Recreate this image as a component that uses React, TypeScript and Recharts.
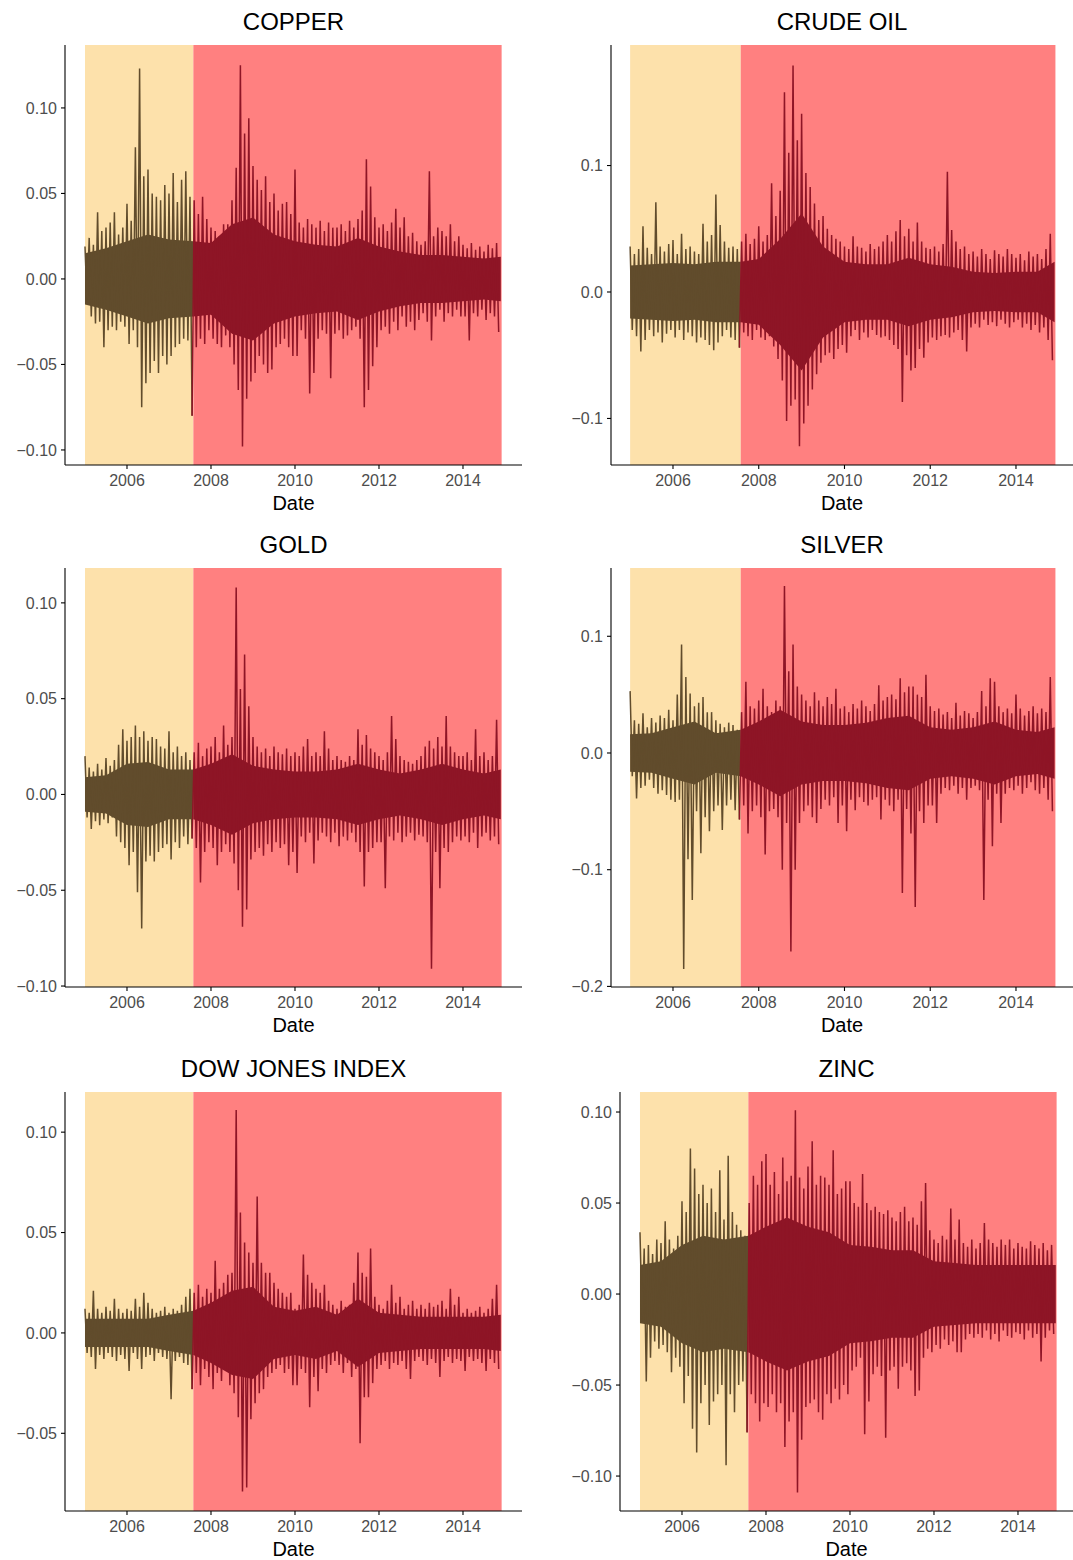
import { ComposedChart, Line, Area, XAxis, YAxis, ReferenceArea } from "recharts";

// returns sampled every 0.1 year from 2005.0: upper and lower envelope of each slice
const START = 2005.0;
const STEP = 0.1;
const BREAK = 2007.58;
const END = 2014.92;
const YEAR_TICKS = [2006, 2008, 2010, 2012, 2014];
// dense core of the returns (half width), read at these dates
const CORE_DATES = [
  2005.0, 2005.5, 2006.0, 2006.5, 2007.0, 2007.58, 2008.0, 2008.5, 2009.0, 2009.5, 2010.0,
  2010.5, 2011.0, 2011.5, 2012.0, 2012.5, 2013.0, 2013.5, 2014.0, 2014.5, 2014.9,
];

const copperHi = [
  0.019, 0.024, 0.020, 0.039, 0.028, 0.030, 0.033, 0.039, 0.026, 0.030,
  0.044, 0.034, 0.077, 0.123, 0.060, 0.064, 0.050, 0.048, 0.046, 0.055,
  0.050, 0.062, 0.045, 0.058, 0.063, 0.048, 0.046, 0.038, 0.048, 0.035,
  0.030, 0.028, 0.025, 0.032, 0.032, 0.046, 0.065, 0.125, 0.085, 0.094,
  0.066, 0.058, 0.052, 0.060, 0.045, 0.050, 0.040, 0.044, 0.045, 0.038,
  0.064, 0.033, 0.030, 0.035, 0.032, 0.030, 0.034, 0.028, 0.033, 0.030,
  0.030, 0.032, 0.028, 0.034, 0.030, 0.035, 0.040, 0.070, 0.054, 0.036,
  0.030, 0.032, 0.028, 0.033, 0.041, 0.030, 0.036, 0.025, 0.027, 0.022,
  0.020, 0.022, 0.063, 0.025, 0.030, 0.028, 0.025, 0.032, 0.022, 0.025,
  0.020, 0.018, 0.021, 0.017, 0.019, 0.016, 0.020, 0.018, 0.021,
];
const copperLo = [
  -0.014, -0.022, -0.026, -0.025, -0.040, -0.030, -0.028, -0.030, -0.025, -0.028,
  -0.038, -0.030, -0.040, -0.075, -0.061, -0.055, -0.048, -0.055, -0.045, -0.050,
  -0.045, -0.040, -0.038, -0.035, -0.036, -0.080, -0.040, -0.035, -0.038, -0.030,
  -0.035, -0.038, -0.040, -0.033, -0.040, -0.050, -0.065, -0.098, -0.070, -0.060,
  -0.055, -0.045, -0.050, -0.055, -0.053, -0.040, -0.038, -0.035, -0.040, -0.045,
  -0.045, -0.030, -0.035, -0.067, -0.055, -0.035, -0.030, -0.032, -0.058, -0.032,
  -0.030, -0.035, -0.033, -0.030, -0.028, -0.035, -0.075, -0.065, -0.051, -0.040,
  -0.030, -0.028, -0.032, -0.025, -0.030, -0.022, -0.028, -0.025, -0.030, -0.024,
  -0.020, -0.025, -0.036, -0.022, -0.018, -0.025, -0.020, -0.022, -0.018, -0.022,
  -0.022, -0.036, -0.020, -0.022, -0.018, -0.024, -0.020, -0.022, -0.031,
];
const copperCore = [
  0.015, 0.018, 0.022, 0.026, 0.023, 0.022, 0.021, 0.032, 0.036, 0.026, 0.022,
  0.020, 0.019, 0.024, 0.019, 0.016, 0.014, 0.014, 0.013, 0.012, 0.013,
];

const crudeHi = [
  0.036, 0.030, 0.034, 0.052, 0.035, 0.030, 0.071, 0.036, 0.032, 0.038,
  0.041, 0.030, 0.046, 0.034, 0.036, 0.032, 0.030, 0.054, 0.040, 0.045,
  0.077, 0.053, 0.040, 0.035, 0.036, 0.034, 0.040, 0.046, 0.038, 0.042,
  0.052, 0.040, 0.045, 0.086, 0.060, 0.080, 0.158, 0.110, 0.179, 0.120,
  0.141, 0.094, 0.083, 0.070, 0.057, 0.060, 0.050, 0.045, 0.042, 0.040,
  0.036, 0.034, 0.044, 0.036, 0.035, 0.032, 0.038, 0.034, 0.036, 0.040,
  0.045, 0.040, 0.048, 0.057, 0.044, 0.050, 0.040, 0.055, 0.040, 0.035,
  0.034, 0.036, 0.032, 0.038, 0.095, 0.049, 0.040, 0.034, 0.036, 0.030,
  0.032, 0.028, 0.034, 0.030, 0.026, 0.033, 0.030, 0.028, 0.034, 0.030,
  0.027, 0.030, 0.025, 0.032, 0.028, 0.030, 0.026, 0.034, 0.046,
];
const crudeLo = [
  -0.030, -0.035, -0.047, -0.038, -0.030, -0.035, -0.032, -0.040, -0.033, -0.030,
  -0.036, -0.030, -0.038, -0.032, -0.035, -0.040, -0.036, -0.038, -0.042, -0.046,
  -0.040, -0.035, -0.030, -0.036, -0.038, -0.044, -0.032, -0.035, -0.038, -0.030,
  -0.036, -0.038, -0.035, -0.043, -0.053, -0.070, -0.102, -0.090, -0.085, -0.122,
  -0.104, -0.090, -0.077, -0.065, -0.056, -0.050, -0.048, -0.053, -0.045, -0.042,
  -0.048, -0.035, -0.030, -0.038, -0.032, -0.036, -0.030, -0.034, -0.036, -0.035,
  -0.038, -0.042, -0.045, -0.087, -0.050, -0.062, -0.060, -0.045, -0.052, -0.040,
  -0.036, -0.038, -0.035, -0.034, -0.036, -0.032, -0.030, -0.038, -0.047, -0.028,
  -0.025, -0.028, -0.022, -0.026, -0.024, -0.027, -0.022, -0.025, -0.028, -0.024,
  -0.022, -0.028, -0.025, -0.030, -0.026, -0.032, -0.028, -0.038, -0.054,
];
const crudeCore = [
  0.021, 0.022, 0.023, 0.022, 0.024, 0.024, 0.026, 0.042, 0.062, 0.036, 0.024,
  0.022, 0.022, 0.027, 0.022, 0.020, 0.016, 0.015, 0.016, 0.016, 0.024,
];

const goldHi = [
  0.020, 0.014, 0.012, 0.016, 0.013, 0.019, 0.015, 0.018, 0.026, 0.034,
  0.028, 0.030, 0.036, 0.030, 0.033, 0.028, 0.030, 0.029, 0.025, 0.024,
  0.033, 0.022, 0.025, 0.020, 0.022, 0.018, 0.022, 0.027, 0.020, 0.024,
  0.025, 0.030, 0.022, 0.036, 0.026, 0.030, 0.108, 0.055, 0.073, 0.046,
  0.030, 0.025, 0.022, 0.024, 0.020, 0.025, 0.022, 0.021, 0.024, 0.020,
  0.022, 0.020, 0.025, 0.029, 0.020, 0.022, 0.020, 0.033, 0.024, 0.018,
  0.020, 0.018, 0.017, 0.020, 0.018, 0.034, 0.026, 0.031, 0.024, 0.022,
  0.020, 0.018, 0.022, 0.041, 0.029, 0.020, 0.018, 0.017, 0.016, 0.018,
  0.020, 0.025, 0.028, 0.024, 0.030, 0.025, 0.041, 0.025, 0.022, 0.020,
  0.020, 0.022, 0.018, 0.034, 0.020, 0.022, 0.018, 0.020, 0.039,
];
const goldLo = [
  -0.012, -0.018, -0.014, -0.016, -0.013, -0.015, -0.012, -0.022, -0.025, -0.028,
  -0.037, -0.030, -0.051, -0.070, -0.035, -0.032, -0.035, -0.030, -0.028, -0.026,
  -0.034, -0.025, -0.028, -0.022, -0.026, -0.023, -0.028, -0.046, -0.030, -0.025,
  -0.028, -0.037, -0.030, -0.026, -0.030, -0.036, -0.050, -0.069, -0.060, -0.034,
  -0.030, -0.028, -0.032, -0.026, -0.030, -0.025, -0.028, -0.026, -0.037, -0.030,
  -0.041, -0.022, -0.025, -0.020, -0.036, -0.024, -0.020, -0.022, -0.025, -0.020,
  -0.027, -0.022, -0.024, -0.020, -0.025, -0.030, -0.048, -0.030, -0.028, -0.025,
  -0.025, -0.049, -0.022, -0.024, -0.020, -0.025, -0.022, -0.020, -0.024, -0.021,
  -0.022, -0.025, -0.091, -0.030, -0.049, -0.028, -0.030, -0.025, -0.022, -0.024,
  -0.022, -0.025, -0.020, -0.028, -0.022, -0.020, -0.024, -0.022, -0.026,
];
const goldCore = [
  0.009, 0.010, 0.016, 0.017, 0.013, 0.013, 0.016, 0.021, 0.015, 0.013, 0.012,
  0.012, 0.013, 0.016, 0.013, 0.011, 0.013, 0.016, 0.013, 0.011, 0.013,
];

const silverHi = [
  0.053, 0.028, 0.025, 0.034, 0.022, 0.030, 0.026, 0.032, 0.030, 0.037,
  0.028, 0.050, 0.093, 0.065, 0.051, 0.040, 0.043, 0.048, 0.035, 0.035,
  0.028, 0.025, 0.022, 0.026, 0.024, 0.020, 0.035, 0.061, 0.040, 0.038,
  0.045, 0.055, 0.040, 0.035, 0.045, 0.040, 0.143, 0.070, 0.093, 0.057,
  0.050, 0.045, 0.040, 0.052, 0.045, 0.040, 0.048, 0.042, 0.055, 0.038,
  0.040, 0.035, 0.042, 0.038, 0.045, 0.040, 0.036, 0.042, 0.058, 0.045,
  0.048, 0.050, 0.046, 0.064, 0.052, 0.057, 0.057, 0.050, 0.048, 0.067,
  0.040, 0.036, 0.038, 0.033, 0.035, 0.030, 0.043, 0.032, 0.036, 0.034,
  0.030, 0.035, 0.053, 0.040, 0.064, 0.061, 0.040, 0.035, 0.038, 0.034,
  0.050, 0.038, 0.032, 0.036, 0.040, 0.034, 0.038, 0.035, 0.065,
];
const silverLo = [
  -0.020, -0.039, -0.030, -0.028, -0.023, -0.030, -0.035, -0.032, -0.036, -0.040,
  -0.042, -0.040, -0.185, -0.091, -0.126, -0.050, -0.086, -0.055, -0.067, -0.050,
  -0.045, -0.066, -0.045, -0.040, -0.049, -0.057, -0.045, -0.069, -0.050, -0.045,
  -0.055, -0.087, -0.050, -0.048, -0.055, -0.100, -0.060, -0.170, -0.100, -0.060,
  -0.050, -0.045, -0.055, -0.060, -0.048, -0.040, -0.045, -0.038, -0.060, -0.045,
  -0.067, -0.040, -0.049, -0.038, -0.042, -0.045, -0.040, -0.038, -0.057, -0.040,
  -0.045, -0.050, -0.040, -0.120, -0.048, -0.069, -0.132, -0.050, -0.060, -0.045,
  -0.045, -0.060, -0.035, -0.030, -0.032, -0.028, -0.035, -0.030, -0.040, -0.030,
  -0.028, -0.032, -0.126, -0.040, -0.080, -0.035, -0.060, -0.035, -0.030, -0.032,
  -0.028, -0.035, -0.030, -0.025, -0.032, -0.035, -0.030, -0.040, -0.050,
];
const silverCore = [
  0.016, 0.017, 0.022, 0.027, 0.017, 0.020, 0.027, 0.037, 0.027, 0.024, 0.024,
  0.026, 0.030, 0.032, 0.022, 0.020, 0.022, 0.027, 0.020, 0.018, 0.022,
];

const dowHi = [
  0.012, 0.010, 0.021, 0.012, 0.010, 0.013, 0.011, 0.017, 0.012, 0.010,
  0.012, 0.011, 0.017, 0.013, 0.020, 0.015, 0.012, 0.010, 0.011, 0.013,
  0.010, 0.012, 0.011, 0.014, 0.018, 0.022, 0.020, 0.024, 0.018, 0.022,
  0.020, 0.036, 0.022, 0.025, 0.029, 0.030, 0.111, 0.060, 0.045, 0.040,
  0.035, 0.068, 0.035, 0.030, 0.030, 0.025, 0.022, 0.020, 0.018, 0.020,
  0.012, 0.014, 0.039, 0.029, 0.025, 0.022, 0.020, 0.024, 0.016, 0.014,
  0.012, 0.016, 0.013, 0.014, 0.025, 0.040, 0.030, 0.028, 0.042, 0.018,
  0.014, 0.012, 0.016, 0.024, 0.015, 0.018, 0.012, 0.014, 0.016, 0.012,
  0.014, 0.012, 0.015, 0.013, 0.014, 0.016, 0.012, 0.022, 0.014, 0.018,
  0.010, 0.012, 0.010, 0.011, 0.013, 0.010, 0.012, 0.017, 0.024,
];
const dowLo = [
  -0.010, -0.012, -0.018, -0.011, -0.013, -0.010, -0.012, -0.014, -0.011, -0.013,
  -0.019, -0.010, -0.013, -0.018, -0.012, -0.011, -0.014, -0.010, -0.012, -0.013,
  -0.033, -0.014, -0.012, -0.015, -0.016, -0.028, -0.020, -0.026, -0.018, -0.022,
  -0.028, -0.020, -0.024, -0.018, -0.026, -0.030, -0.042, -0.079, -0.077, -0.043,
  -0.035, -0.030, -0.028, -0.022, -0.020, -0.018, -0.016, -0.020, -0.018, -0.026,
  -0.026, -0.018, -0.020, -0.037, -0.022, -0.029, -0.018, -0.020, -0.016, -0.014,
  -0.016, -0.020, -0.015, -0.022, -0.018, -0.055, -0.032, -0.032, -0.025, -0.018,
  -0.016, -0.014, -0.018, -0.015, -0.016, -0.014, -0.018, -0.023, -0.014, -0.012,
  -0.014, -0.016, -0.013, -0.015, -0.022, -0.014, -0.012, -0.015, -0.013, -0.014,
  -0.019, -0.012, -0.014, -0.013, -0.015, -0.019, -0.013, -0.015, -0.018,
];
const dowCore = [
  0.007, 0.007, 0.007, 0.007, 0.009, 0.011, 0.015, 0.021, 0.023, 0.013, 0.011,
  0.013, 0.009, 0.017, 0.010, 0.009, 0.008, 0.008, 0.008, 0.008, 0.009,
];

const zincHi = [
  0.034, 0.025, 0.027, 0.022, 0.030, 0.028, 0.040, 0.030, 0.025, 0.032,
  0.051, 0.045, 0.080, 0.069, 0.055, 0.060, 0.050, 0.058, 0.045, 0.068,
  0.041, 0.076, 0.045, 0.038, 0.035, 0.032, 0.050, 0.065, 0.060, 0.073,
  0.077, 0.060, 0.067, 0.055, 0.075, 0.062, 0.065, 0.101, 0.064, 0.058,
  0.070, 0.084, 0.060, 0.065, 0.064, 0.060, 0.079, 0.055, 0.058, 0.062,
  0.062, 0.050, 0.048, 0.066, 0.050, 0.046, 0.048, 0.045, 0.044, 0.046,
  0.042, 0.040, 0.045, 0.048, 0.040, 0.042, 0.038, 0.051, 0.061, 0.035,
  0.030, 0.028, 0.032, 0.030, 0.047, 0.030, 0.041, 0.028, 0.026, 0.030,
  0.025, 0.028, 0.039, 0.030, 0.028, 0.026, 0.030, 0.027, 0.030, 0.025,
  0.028, 0.026, 0.025, 0.029, 0.027, 0.025, 0.028, 0.024, 0.027,
];
const zincLo = [
  -0.015, -0.048, -0.035, -0.026, -0.030, -0.028, -0.032, -0.043, -0.035, -0.040,
  -0.060, -0.045, -0.074, -0.087, -0.060, -0.050, -0.072, -0.059, -0.055, -0.050,
  -0.094, -0.055, -0.065, -0.050, -0.048, -0.076, -0.055, -0.060, -0.070, -0.060,
  -0.062, -0.055, -0.065, -0.060, -0.084, -0.070, -0.065, -0.109, -0.080, -0.062,
  -0.060, -0.058, -0.065, -0.069, -0.055, -0.060, -0.052, -0.058, -0.050, -0.055,
  -0.042, -0.040, -0.035, -0.077, -0.059, -0.044, -0.040, -0.045, -0.079, -0.042,
  -0.040, -0.052, -0.040, -0.038, -0.042, -0.056, -0.053, -0.035, -0.030, -0.032,
  -0.028, -0.030, -0.025, -0.028, -0.026, -0.032, -0.032, -0.025, -0.022, -0.024,
  -0.022, -0.024, -0.020, -0.025, -0.022, -0.026, -0.020, -0.023, -0.024, -0.021,
  -0.022, -0.025, -0.020, -0.024, -0.022, -0.037, -0.024, -0.020, -0.022,
];
const zincCore = [
  0.016, 0.018, 0.027, 0.032, 0.030, 0.032, 0.037, 0.042, 0.037, 0.034, 0.027,
  0.026, 0.024, 0.024, 0.018, 0.017, 0.016, 0.016, 0.016, 0.016, 0.016,
];

const FONT = '"Liberation Sans", Arial, Helvetica, sans-serif';
const PRE_FILL = "#FDE1AB";
const POST_FILL = "#FF8080";
const PRE_LINE = "#614C2C";
const POST_LINE = "#8E1526";

type Pt = { date: number; ret: number };
type Band = { date: number; band: [number, number] };

function splitSeries(hi: number[], lo: number[]) {
  const pre: Pt[] = [];
  const post: Pt[] = [];
  hi.forEach((h, i) => {
    const t = START + i * STEP;
    const target = t < BREAK ? pre : post;
    target.push({ date: t, ret: h });
    target.push({ date: t + STEP / 2, ret: lo[i] });
  });
  // keep the line continuous across the break
  post.unshift(pre[pre.length - 1]);
  return { pre, post };
}

function splitCore(core: number[]) {
  const rows: Band[] = CORE_DATES.map((d, i) => ({ date: d, band: [-core[i], core[i]] }));
  return {
    preBand: rows.filter((r) => r.date <= BREAK),
    postBand: rows.filter((r) => r.date >= BREAK),
  };
}

interface PanelProps {
  title: string;
  hi: number[];
  lo: number[];
  core: number[];
  left: number;
  top: number;
  width: number;
  height: number;
  xDomain: [number, number];
  yDomain: [number, number];
  yTicks: number[];
  digits: number;
}

const fmt = (digits: number) => (v: number) =>
  v.toFixed(digits).replace("-", "\u2212");

const X_AXIS_H = 48;

function Panel(props: PanelProps) {
  const { title, hi, lo, core, left, top, width, height, xDomain, yDomain, yTicks, digits } = props;
  const { pre, post } = splitSeries(hi, lo);
  const { preBand, postBand } = splitCore(core);
  const yw = 65;
  const mt = 45;
  const plotLeft = left + yw;
  const plotW = width - yw;

  return (
    <>
      <div
        style={{
          position: "absolute",
          left: plotLeft,
          top: top + mt - 37,
          width: plotW,
          height: 28,
          lineHeight: "28px",
          textAlign: "center",
          fontFamily: FONT,
          fontSize: 24,
          color: "#000",
        }}
      >
        {title}
      </div>
      <div style={{ position: "absolute", left, top }}>
        <ComposedChart
          width={width}
          height={height}
          margin={{ top: mt, right: 0, bottom: 0, left: 0 }}
        >
          <XAxis
            type="number"
            dataKey="date"
            domain={xDomain}
            ticks={YEAR_TICKS}
            allowDataOverflow
            height={X_AXIS_H}
            tickSize={4}
            tickMargin={6}
            axisLine={{ stroke: "#000", strokeWidth: 1.1 }}
            tickLine={{ stroke: "#000", strokeWidth: 1.1 }}
            tick={{ fill: "#4D4D4D", fontSize: 16, fontFamily: FONT }}
            label={{
              value: "Date",
              position: "insideBottom",
              offset: 3,
              style: { fill: "#000", fontSize: 20, fontFamily: FONT },
            }}
          />
          <YAxis
            type="number"
            domain={yDomain}
            ticks={yTicks}
            allowDataOverflow
            width={yw}
            tickSize={4}
            tickMargin={4}
            tickFormatter={fmt(digits)}
            axisLine={{ stroke: "#000", strokeWidth: 1.1 }}
            tickLine={{ stroke: "#000", strokeWidth: 1.1 }}
            tick={{ fill: "#4D4D4D", fontSize: 16, fontFamily: FONT }}
          />
          <ReferenceArea x1={START} x2={BREAK} fill={PRE_FILL} fillOpacity={1} stroke="none" />
          <ReferenceArea x1={BREAK} x2={END} fill={POST_FILL} fillOpacity={1} stroke="none" />
          <Area
            data={preBand}
            dataKey="band"
            type="linear"
            fill={PRE_LINE}
            fillOpacity={1}
            stroke="none"
            dot={false}
            activeDot={false}
            isAnimationActive={false}
          />
          <Area
            data={postBand}
            dataKey="band"
            type="linear"
            fill={POST_LINE}
            fillOpacity={1}
            stroke="none"
            dot={false}
            activeDot={false}
            isAnimationActive={false}
          />
          <Line
            data={pre}
            dataKey="ret"
            type="linear"
            stroke={PRE_LINE}
            strokeWidth={1.5}
            dot={false}
            activeDot={false}
            isAnimationActive={false}
          />
          <Line
            data={post}
            dataKey="ret"
            type="linear"
            stroke={POST_LINE}
            strokeWidth={1.5}
            dot={false}
            activeDot={false}
            isAnimationActive={false}
          />
        </ComposedChart>
      </div>
    </>
  );
}

const LEFT_X: [number, number] = [2004.524, 2015.405];
const RIGHT_X: [number, number] = [2004.554, 2015.33];
const ZINC_X: [number, number] = [2004.524, 2015.31];

export default function App() {
  return (
    <div
      style={{
        position: "absolute",
        left: 0,
        top: 0,
        width: 1073,
        height: 1560,
        background: "#fff",
        overflow: "hidden",
      }}
    >
      <Panel
        title="COPPER"
        hi={copperHi}
        lo={copperLo}
        core={copperCore}
        left={0}
        top={0}
        width={522}
        height={465 + X_AXIS_H}
        xDomain={LEFT_X}
        yDomain={[-0.1088, 0.1368]}
        yTicks={[-0.1, -0.05, 0, 0.05, 0.1]}
        digits={2}
      />
      <Panel
        title="CRUDE OIL"
        hi={crudeHi}
        lo={crudeLo}
        core={crudeCore}
        left={546}
        top={0}
        width={527}
        height={465 + X_AXIS_H}
        xDomain={RIGHT_X}
        yDomain={[-0.1368, 0.1953]}
        yTicks={[-0.1, 0, 0.1]}
        digits={1}
      />
      <Panel
        title="GOLD"
        hi={goldHi}
        lo={goldLo}
        core={goldCore}
        left={0}
        top={523}
        width={522}
        height={464 + X_AXIS_H}
        xDomain={LEFT_X}
        yDomain={[-0.1005, 0.1182]}
        yTicks={[-0.1, -0.05, 0, 0.05, 0.1]}
        digits={2}
      />
      <Panel
        title="SILVER"
        hi={silverHi}
        lo={silverLo}
        core={silverCore}
        left={546}
        top={523}
        width={527}
        height={464 + X_AXIS_H}
        xDomain={RIGHT_X}
        yDomain={[-0.2005, 0.1585]}
        yTicks={[-0.2, -0.1, 0, 0.1]}
        digits={1}
      />
      <Panel
        title="DOW JONES INDEX"
        hi={dowHi}
        lo={dowLo}
        core={dowCore}
        left={0}
        top={1047}
        width={522}
        height={464 + X_AXIS_H}
        xDomain={LEFT_X}
        yDomain={[-0.0887, 0.12]}
        yTicks={[-0.05, 0, 0.05, 0.1]}
        digits={2}
      />
      <Panel
        title="ZINC"
        hi={zincHi}
        lo={zincLo}
        core={zincCore}
        left={555}
        top={1047}
        width={518}
        height={464 + X_AXIS_H}
        xDomain={ZINC_X}
        yDomain={[-0.1192, 0.111]}
        yTicks={[-0.1, -0.05, 0, 0.05, 0.1]}
        digits={2}
      />
    </div>
  );
}
